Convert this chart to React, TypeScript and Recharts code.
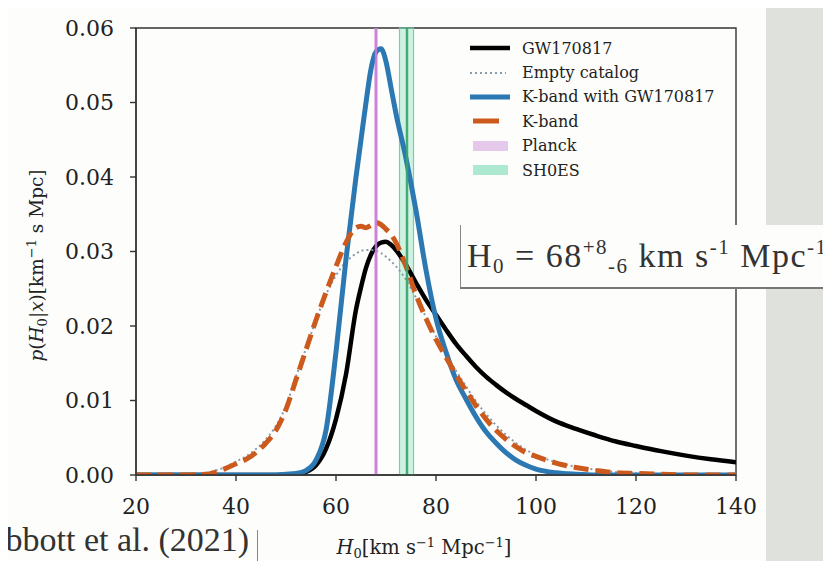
import {
  Legend,
  Line,
  LineChart,
  ReferenceArea,
  ReferenceLine,
  XAxis,
  YAxis,
} from 'recharts';

// H0 grid (km/s/Mpc) and posterior densities for each analysis
const hGrid = [
  20, 25, 30, 34, 36, 38, 40, 42, 44, 46, 48, 50, 52, 54, 56, 58, 60, 62, 64, 65,
  66, 67, 68, 69, 70, 71, 72, 74, 76, 78, 80, 82, 84, 86, 88, 90, 92, 94, 96, 98,
  100, 104, 108, 112, 116, 120, 125, 130, 135, 140,
];

const gw170817 = [
  0, 0, 0, 0, 0, 0, 0, 0, 0, 0, 0, 0, 0.0001, 0.0004, 0.0013, 0.0035, 0.0075, 0.0135, 0.0222, 0.0252,
  0.0278, 0.0296, 0.0307, 0.0312, 0.0313, 0.0309, 0.0302, 0.0282, 0.0258, 0.0235, 0.0215, 0.0195, 0.0176, 0.016, 0.0145, 0.0132, 0.0121, 0.0111, 0.0102, 0.0094,
  0.0086, 0.0072, 0.0062, 0.0053, 0.0045, 0.0039, 0.0032, 0.0026, 0.0021, 0.0017,
];

const emptyCatalog = [
  0, 0, 0.0001, 0.0003, 0.0006, 0.0011, 0.0018, 0.0025, 0.0035, 0.0048, 0.0066, 0.0093, 0.0132, 0.017, 0.0208, 0.0242, 0.0268, 0.0286, 0.0297, 0.0301,
  0.0302, 0.0302, 0.0301, 0.0298, 0.0293, 0.0287, 0.028, 0.0262, 0.0238, 0.0212, 0.0186, 0.0162, 0.014, 0.0119, 0.0099, 0.0082, 0.0067, 0.0054, 0.0043, 0.0034,
  0.0027, 0.0017, 0.0011, 0.0007, 0.0004, 0.0002, 0.0001, 0, 0, 0,
];

const kBandWithGW = [
  0, 0, 0, 0, 0, 0, 0, 0, 0, 0, 0, 0.0001, 0.0002, 0.0006, 0.002, 0.006, 0.0165, 0.029, 0.04, 0.045,
  0.05, 0.0545, 0.0568, 0.0572, 0.0555, 0.052, 0.0485, 0.0425, 0.0355, 0.0275, 0.021, 0.0165, 0.0128, 0.0102, 0.0078, 0.0058, 0.0043, 0.003, 0.002, 0.0013,
  0.0008, 0.0003, 0.0001, 0, 0, 0, 0, 0, 0, 0,
];

const kBand = [
  0, 0, 0, 0.0001, 0.0004, 0.0009, 0.0015, 0.0021, 0.003, 0.0043, 0.006, 0.0088, 0.0128, 0.0168, 0.0208, 0.0245, 0.028, 0.0312, 0.0332, 0.0334,
  0.0332, 0.0335, 0.0339, 0.0336, 0.033, 0.0323, 0.0312, 0.028, 0.0242, 0.021, 0.0182, 0.0158, 0.0135, 0.0113, 0.0093, 0.0075, 0.006, 0.0048, 0.0038, 0.003,
  0.0025, 0.0016, 0.001, 0.0006, 0.0003, 0.0002, 0.0001, 0, 0, 0,
];

// external measurements
const planckH0 = 68.0;
const planckRange = [67.6, 68.4];
const shoesH0 = 74.2;
const shoesRange = [72.7, 75.5];

const xTicks = [20, 40, 60, 80, 100, 120, 140];
const yTicks = [0, 0.01, 0.02, 0.03, 0.04, 0.05, 0.06];

const legendNames = ['GW170817', 'Empty catalog', 'K-band with GW170817', 'K-band', 'Planck', 'SH0ES'];

const data = hGrid.map((h, i) => ({
  h,
  gw: gw170817[i],
  empty: emptyCatalog[i],
  kgw: kBandWithGW[i],
  k: kBand[i],
}));

const BLUE = '#2b78b2';
const ORANGE = '#cc5a1c';
const DOTTED = '#8a9aa8';
const SERIF = '"DejaVu Serif", serif';
const SLIDE = '"Liberation Serif", serif';

const legendSample = (i: number) => {
  switch (i) {
    case 0:
      return <line x1={5} x2={45} y1={10} y2={10} stroke="#000" strokeWidth={4.5} />;
    case 1:
      return <line x1={5} x2={41} y1={10} y2={10} stroke={DOTTED} strokeWidth={2} strokeDasharray="2 3" />;
    case 2:
      return <line x1={5} x2={45} y1={10} y2={10} stroke={BLUE} strokeWidth={5} />;
    case 3:
      return <line x1={8} x2={34} y1={10} y2={10} stroke={ORANGE} strokeWidth={5} />;
    case 4:
      return <rect x={8} y={5} width={35} height={10} fill="#e5c9ea" />;
    default:
      return <rect x={8} y={5} width={35} height={10} fill="#ade8d1" />;
  }
};

const renderLegend = () => (
  <div style={{ fontFamily: SERIF, fontSize: 16, color: '#222' }}>
    {legendNames.map((name, i) => (
      <div key={name} style={{ display: 'flex', alignItems: 'center', height: 24.4 }}>
        <svg width={57} height={20}>{legendSample(i)}</svg>
        <span>{name}</span>
      </div>
    ))}
  </div>
);

const YAxisTitle = ({ viewBox }: any) => {
  const cx = viewBox.x + 23;
  const cy = viewBox.y + viewBox.height / 2 + 14;
  return (
    <text
      x={cx}
      y={cy}
      transform={`rotate(-90, ${cx}, ${cy})`}
      textAnchor="middle"
      fontFamily={SERIF}
      fontSize={18.5}
      fill="#222"
    >
      <tspan fontStyle="italic">p</tspan>
      <tspan>(</tspan>
      <tspan fontStyle="italic">H</tspan>
      <tspan dy={4} fontSize={13}>0</tspan>
      <tspan dy={-4}>|</tspan>
      <tspan fontStyle="italic">x</tspan>
      <tspan>)[km</tspan>
      <tspan dy={-7} fontSize={13}>−1</tspan>
      <tspan dy={7}> s Mpc]</tspan>
    </text>
  );
};

const XAxisTitle = ({ viewBox }: any) => {
  const cx = viewBox.x + viewBox.width / 2 - 12;
  return (
    <text x={cx} y={554} textAnchor="middle" fontFamily={SERIF} fontSize={19.5} fill="#222">
      <tspan fontStyle="italic">H</tspan>
      <tspan dy={4} fontSize={13}>0</tspan>
      <tspan dy={-4}>[km s</tspan>
      <tspan dy={-7} fontSize={13}>−1</tspan>
      <tspan dy={7}> Mpc</tspan>
      <tspan dy={-7} fontSize={13}>−1</tspan>
      <tspan dy={7}>]</tspan>
    </text>
  );
};

// raised / lowered script that leaves the line box alone
const sup = { fontSize: 21, position: 'relative' as const, top: -13 };
const sub = { fontSize: 21, position: 'relative' as const, top: 6 };

export default function App() {
  return (
    <div style={{ position: 'relative', width: 831, height: 569, margin: -8, overflow: 'hidden', background: '#dfe1dc' }}>
      <div style={{ position: 'absolute', left: 8, top: 6, width: 758, height: 563, background: '#fdfefc' }} />
      <div style={{ position: 'absolute', left: 0, top: 0 }}>
        <LineChart width={831} height={569} data={data} margin={{ top: 28, right: 95, bottom: 54, left: 20 }}>
          <XAxis
            dataKey="h"
            type="number"
            domain={[20, 140]}
            ticks={xTicks}
            allowDataOverflow
            tick={{ fontFamily: SERIF, fontSize: 22, fill: '#222' }}
            tickSize={6}
            tickMargin={17}
            height={40}
            stroke="#333"
            strokeWidth={1.4}
            label={{ content: (p: any) => <XAxisTitle {...p} /> }}
          />
          <YAxis
            type="number"
            domain={[0, 0.06]}
            ticks={yTicks}
            allowDataOverflow
            tickFormatter={(v: number) => v.toFixed(2)}
            tick={{ fontFamily: SERIF, fontSize: 22, fill: '#222' }}
            tickSize={6}
            tickMargin={16}
            width={116}
            stroke="#333"
            strokeWidth={1.4}
            label={{ content: (p: any) => <YAxisTitle {...p} /> }}
          />
          <ReferenceArea x1={20} x2={140} y1={0} y2={0.06} fill="none" fillOpacity={0} stroke="#333" strokeWidth={1.4} />
          <Line type="monotone" dataKey="gw" stroke="#000" strokeWidth={4.5} dot={false} isAnimationActive={false} />
          <Line type="monotone" dataKey="empty" stroke={DOTTED} strokeWidth={2} strokeDasharray="2 3" dot={false} isAnimationActive={false} />
          <Line type="monotone" dataKey="kgw" stroke={BLUE} strokeWidth={5} dot={false} isAnimationActive={false} />
          <Line type="monotone" dataKey="k" stroke={ORANGE} strokeWidth={5} strokeDasharray="15 7" dot={false} isAnimationActive={false} />
          <ReferenceArea x1={planckRange[0]} x2={planckRange[1]} fill="#dba6e4" fillOpacity={0.45} />
          <ReferenceLine x={planckH0} stroke="#c87ad6" strokeWidth={2.5} strokeOpacity={0.9} />
          <ReferenceArea x1={shoesRange[0]} x2={shoesRange[1]} fill="#7cdcb2" fillOpacity={0.35} stroke="#6fd3a6" strokeWidth={1.2} />
          <ReferenceLine x={shoesH0} stroke="#35a36a" strokeWidth={2.5} strokeOpacity={0.9} />
          <Legend
            layout="horizontal"
            verticalAlign="middle"
            align="center"
            content={renderLegend}
            wrapperStyle={{ position: 'absolute', left: 465, top: 36, width: 280, height: 150 }}
          />
        </LineChart>
      </div>
      <div
        style={{
          position: 'absolute',
          left: 460,
          top: 225,
          width: 380,
          height: 62,
          background: '#fdfefc',
          borderLeft: '1.5px solid #888',
          borderBottom: '2px solid #777',
          fontFamily: SLIDE,
          fontSize: 34,
          letterSpacing: 1.5,
          color: '#333',
          whiteSpace: 'nowrap',
          lineHeight: '62px',
          paddingLeft: 6,
        }}
      >
        H<span style={sub}>0</span> = 68<span style={sup}>+8</span>
        <span style={sub}>-6</span> km s<span style={sup}>-1</span> Mpc
        <span style={sup}>-1</span>
      </div>
      <div
        style={{
          position: 'absolute',
          left: 0,
          top: 530,
          width: 257,
          height: 45,
          background: '#fdfefc',
          borderRight: '1.5px solid #888',
        }}
      >
        <div
          style={{
            position: 'absolute',
            left: -19,
            top: -9,
            fontFamily: SLIDE,
            fontSize: 34,
            color: '#333',
            whiteSpace: 'nowrap',
          }}
        >
          Abbott et al. (2021)
        </div>
      </div>
    </div>
  );
}
